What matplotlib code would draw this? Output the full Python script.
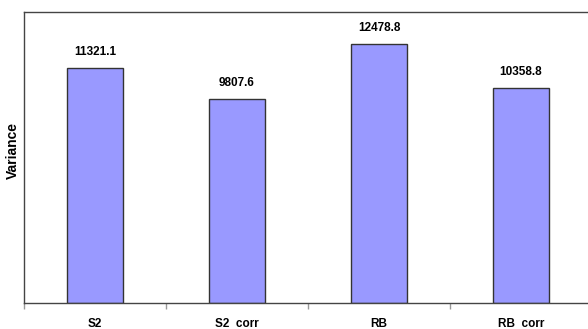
import matplotlib.pyplot as plt
from matplotlib.ticker import FixedLocator

plt.rcParams['font.family'] = ['Liberation Sans', 'DejaVu Sans']

categories = ["S2", "S2  corr", "RB", "RB  corr"]
variance = [11321.1, 9807.6, 12478.8, 10358.8]
value_labels = ["11321.1", "9807.6", "12478.8", "10358.8"]

fig = plt.figure(figsize=(5.88, 3.29), dpi=100)
ax = fig.add_axes([0.0408, 0.080, 0.966, 0.8835])

x = list(range(len(categories)))
bars = ax.bar(x, variance, width=0.40, color="#9999FF",
              edgecolor="#333333", linewidth=1.0, zorder=2)

for bar, txt in zip(bars, value_labels):
    ax.annotate(txt, (bar.get_x() + bar.get_width() / 2, bar.get_height()),
                xytext=(0, 7), textcoords="offset points",
                ha="center", va="bottom", fontsize=8.5, fontweight="bold")

ax.set_xlim(-0.5, len(categories) - 0.5)
ax.set_ylim(0, 14000)

# category names at bar centres, small tick marks between groups
ax.set_xticks(x)
ax.set_xticklabels(categories, fontsize=8.5, fontweight="bold")
ax.xaxis.set_minor_locator(FixedLocator([i + 0.5 for i in range(-1, len(categories))]))
ax.tick_params(axis="x", which="major", length=0, pad=11)
ax.tick_params(axis="x", which="minor", length=4, color="#999999", width=1)
ax.set_yticks([])

ax.set_ylabel("Variance", fontsize=10, fontweight="bold", labelpad=3, y=0.525)

for side in ["left", "top", "bottom", "right"]:
    ax.spines[side].set_color("#444444")
    ax.spines[side].set_linewidth(1.0)

fig.savefig("out.png", dpi=100)
